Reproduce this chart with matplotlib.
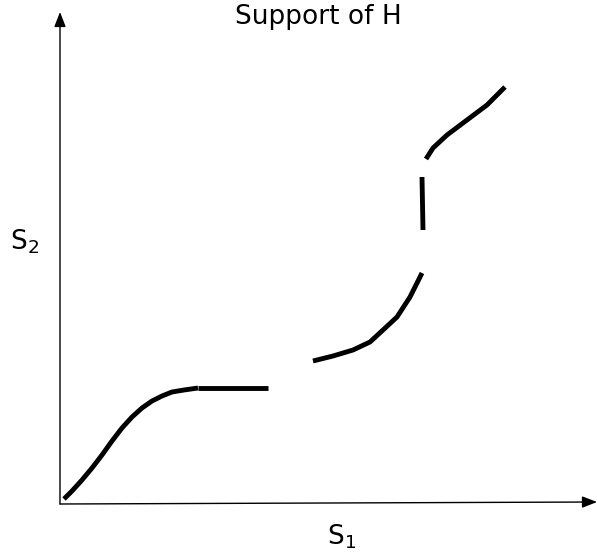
import matplotlib
matplotlib.use('Agg')
import matplotlib.pyplot as plt

# Pieces of the support curve (origin at the axes corner)
seg1_x = [4, 12, 22, 32, 42, 52, 62, 72, 82, 92, 102, 112, 124, 138]
seg1_y = [5, 13, 24, 36, 49, 63, 76, 87, 96, 103, 108, 112, 114, 116]
seg2_x = [138, 208]
seg2_y = [116, 116]
seg3_x = [253, 273, 293, 310, 323, 337, 350, 362]
seg3_y = [143, 148, 154, 162, 174, 187, 207, 231]
seg4_x = [362, 363]
seg4_y = [327, 274]
seg5_x = [366, 373, 387, 407, 427, 445]
seg5_y = [345, 356, 369, 384, 399, 417]

fig = plt.figure(figsize=(5.97, 5.59), dpi=100)
ax = fig.add_axes([0, 0, 1, 1])
ax.set_xlim(-60, 537)
ax.set_ylim(-55, 504)
ax.axis('off')

# axes with arrow heads
arrow = dict(arrowstyle='-|>,head_length=0.9,head_width=0.35',
             color='black', lw=1.0, shrinkA=0, shrinkB=0)
ax.annotate('', xy=(537, 2), xytext=(0, 0), arrowprops=arrow)
ax.annotate('', xy=(0, 492), xytext=(0, 0), arrowprops=arrow)

for xs, ys in [(seg1_x, seg1_y), (seg2_x, seg2_y), (seg3_x, seg3_y),
               (seg4_x, seg4_y), (seg5_x, seg5_y)]:
    ax.plot(xs, ys, color='black', lw=3.5, solid_capstyle='butt',
            solid_joinstyle='round')

ax.text(258, 487, 'Support of H', ha='center', va='center', fontsize=19)
ax.text(-35, 262, r'S$_2$', ha='center', va='center', fontsize=19)
ax.text(282, -33, r'S$_1$', ha='center', va='center', fontsize=19)

fig.savefig('out.png', dpi=100)
